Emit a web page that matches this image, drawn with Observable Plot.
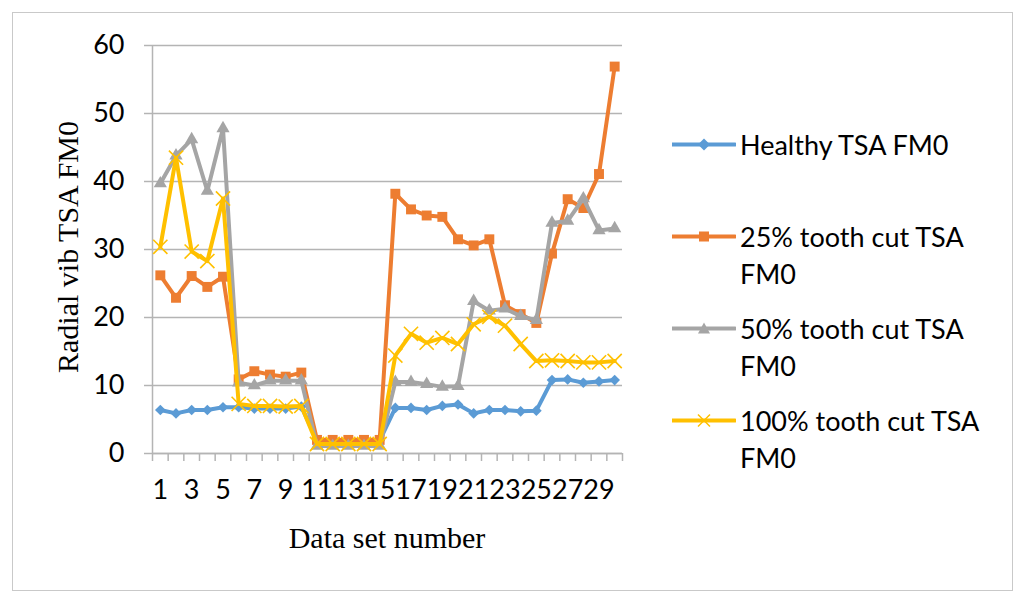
<!DOCTYPE html>
<html><head><meta charset="utf-8">
<script src="https://cdn.jsdelivr.net/npm/d3@7"></script>
<script src="https://cdn.jsdelivr.net/npm/@observablehq/plot@0.6"></script>
<style>
body{margin:0;background:#fff;}
#wrap{position:relative;width:1024px;height:603px;overflow:hidden;background:#fff}
#frame{position:absolute;left:12px;top:12px;width:1001px;height:579px;border:1.5px solid #c9c9c9;box-sizing:border-box}
#chart{position:absolute;left:0;top:0}
.atitle{position:absolute;font-family:"Liberation Serif","Times New Roman",serif;font-size:30px;color:#000;white-space:nowrap;line-height:1}
#xtitle{left:387px;top:538px;transform:translate(-50%,-50%)}
#ytitle{left:68px;top:247px;transform:translate(-50%,-50%) rotate(-90deg)}
#legend{position:absolute;left:672px;top:0;font-family:Lato,sans-serif;font-size:27px;color:#000}
.item{position:absolute;left:0;width:340px;display:flex;align-items:flex-start}
.item svg{flex:none}
.item span{display:block;width:262px;line-height:37px;margin-left:4px}
</style></head><body>
<div id="wrap"><div id="frame"></div><div id="chart"></div><div id="legend"></div>
<div class="atitle" id="xtitle"></div><div class="atitle" id="ytitle"></div></div>
<script>
const dataSets = [1,2,3,4,5,6,7,8,9,10,11,12,13,14,15,16,17,18,19,20,21,22,23,24,25,26,27,28,29,30];
const xTickLabels = [1,3,5,7,9,11,13,15,17,19,21,23,25,27,29];
const yTicks = [0,10,20,30,40,50,60];
const xTitle = "Data set number";
const yTitle = "Radial vib TSA FM0";
const seriesNames = ["Healthy TSA FM0","25% tooth cut TSA FM0","50% tooth cut TSA FM0","100% tooth cut TSA FM0"];
const seriesColors = ["#5B9BD5","#ED7D31","#A5A5A5","#FFC000"];
const healthy = [6.4,5.9,6.4,6.4,6.8,6.8,6.6,6.6,6.6,6.9,1.9,1.9,1.9,1.9,1.9,6.7,6.7,6.4,7.0,7.2,5.9,6.4,6.4,6.2,6.3,10.8,10.9,10.4,10.6,10.8];
const cut25 = [26.2,22.9,26.1,24.5,26.0,10.9,12.1,11.6,11.3,11.9,2.0,2.0,2.0,2.0,2.0,38.2,35.9,35.0,34.8,31.5,30.6,31.5,21.8,20.5,19.2,29.4,37.4,36.1,41.1,56.9];
const cut50 = [39.7,43.8,46.2,38.6,47.8,10.4,10.0,10.7,10.7,10.7,1.1,1.1,1.1,1.1,1.1,10.5,10.5,10.2,9.8,9.9,22.4,21.0,21.3,20.2,19.6,33.9,34.2,37.5,32.8,33.1];
const cut100 = [30.4,43.5,29.7,28.3,37.5,7.3,7.0,7.0,6.9,7.0,1.4,1.4,1.4,1.4,1.4,14.4,17.6,16.3,17.0,16.1,19.0,20.1,18.8,16.1,13.6,13.7,13.6,13.4,13.4,13.6];

const seriesValues = [healthy, cut25, cut50, cut100];
const symbols = [
  {symbol:"diamond2", r:4.8, fill:true},
  {symbol:"square", r:5.6, fill:true},
  {symbol:"triangle", r:4.9, fill:true},
  {symbol:"times", r:6.5, fill:false}
];
const boundaries = [...dataSets.map(d => d - 0.5), dataSets[dataSets.length-1] + 0.5];

const seriesMarks = seriesValues.flatMap((vals, k) => {
  const rows = vals.map((v, i) => ({x: dataSets[i], y: v}));
  const sym = symbols[k];
  return [
    Plot.line(rows, {x:"x", y:"y", stroke: seriesColors[k], strokeWidth:4, strokeLinejoin:"round"}),
    Plot.dot(rows, {x:"x", y:"y", symbol: sym.symbol, r: sym.r,
      fill: sym.fill ? seriesColors[k] : "none",
      stroke: seriesColors[k], strokeWidth: sym.fill ? 0 : 1.6})
  ];
});

const chart = Plot.plot({
  width:1024, height:603,
  marginLeft:152, marginRight:402, marginTop:45, marginBottom:150,
  x:{type:"linear", domain:[boundaries[0], boundaries[boundaries.length-1]]},
  y:{domain:[0,60]},
  style:{fontFamily:"Lato, sans-serif", fontSize:"27px", color:"#000", background:"transparent", overflow:"visible"},
  marks:[
    Plot.gridY(yTicks, {stroke:"#b4b4b4", strokeOpacity:1, strokeWidth:1.5}),
    Plot.axisY(yTicks, {tickSize:8, tickPadding:20, stroke:"#b4b4b4", strokeWidth:1.5, fill:"#000", label:null}),
    Plot.axisX(boundaries, {tickSize:8, stroke:"#b4b4b4", strokeWidth:1.5, tickFormat:() => "", label:null}),
    Plot.axisX(xTickLabels, {tickSize:0, tickPadding:26, fill:"#000", label:null}),
    Plot.ruleX([boundaries[0]], {stroke:"#b4b4b4", strokeWidth:1.5}),
    Plot.ruleY([0], {stroke:"#b4b4b4", strokeWidth:1.5}),
    ...seriesMarks
  ]
});
document.getElementById("chart").appendChild(chart);
document.getElementById("xtitle").textContent = xTitle;
document.getElementById("ytitle").textContent = yTitle;

// legend
const legend = document.getElementById("legend");
const legendTops = [126, 218, 310, 402];
const legendSym = [
  c => `<path d="M32,-6 L38,0 L32,6 L26,0 Z" fill="${c}"/>`,
  c => `<rect x="27" y="-5" width="10" height="10" fill="${c}"/>`,
  c => `<path d="M32,-6 L38,5 L26,5 Z" fill="${c}"/>`,
  c => `<path d="M26,-6 L38,6 M38,-6 L26,6" stroke="${c}" stroke-width="1.5"/>`
];
seriesNames.forEach((name, k) => {
  const div = document.createElement("div");
  div.className = "item";
  div.style.top = legendTops[k] + "px";
  div.innerHTML = `<svg width="64" height="37" viewBox="0 -18.5 64 37"><line x1="0" x2="63" y1="0" y2="0" stroke="${seriesColors[k]}" stroke-width="4" stroke-linecap="round"/>${legendSym[k](seriesColors[k])}</svg><span>${name}</span>`;
  legend.appendChild(div);
});
</script>
</body></html>
